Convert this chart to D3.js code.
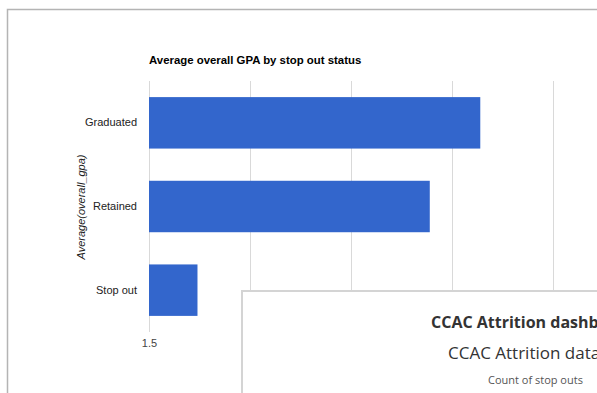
<!DOCTYPE html>
<html>
<head>
<meta charset="utf-8">
<script src="https://cdn.jsdelivr.net/npm/d3@7"></script>
<style>
  body { margin: 0; background: #fff; }
  svg { font-family: Arial, "Liberation Sans", sans-serif; }
  .card-text { font-family: "Open Sans", sans-serif; }
</style>
</head>
<body>
<div class="chart"></div>
<script>
// chart data
let categories = ["Graduated", "Retained", "Stop out"];
let gpaValues = [3.14, 2.89, 1.74];
let xTicks = [1.5, 2, 2.5, 3, 3.5];
// only the first tick label is visible, the rest sit under the card
let xTickLabels = ["1.5"];
let chartTitle = "Average overall GPA by stop out status";
let yAxisTitle = "Average(overall_gpa)";
let cardTitle = "CCAC Attrition dashboard";
let cardSubtitle = "CCAC Attrition data";
let cardLabel = "Count of stop outs";

let svgWidth = 597;
let svgHeight = 393;

let svg = d3.select(".chart")
  .append("svg")
  .attr("width", svgWidth)
  .attr("height", svgHeight);

// outer panel frame
svg.append("rect")
  .attr("x", 7.5).attr("y", 9.5)
  .attr("width", 700).attr("height", 500)
  .attr("fill", "#fff")
  .attr("stroke", "#b4b4b4")
  .attr("stroke-width", 1.5);

let plot = { left: 149, right: 553, top: 81, bottom: 332 };

let xScale = d3.scaleLinear()
  .domain([1.5, 3.5])
  .range([plot.left, plot.right]);

let yScale = d3.scaleBand()
  .domain(categories)
  .range([plot.top, plot.bottom])
  .paddingInner(0.385)
  .paddingOuter(0.1925);

// gridlines
svg.append("g")
  .selectAll("line")
  .data(xTicks)
  .enter()
  .append("line")
  .attr("x1", d => Math.round(xScale(d)) + 0.5)
  .attr("x2", d => Math.round(xScale(d)) + 0.5)
  .attr("y1", plot.top)
  .attr("y2", plot.bottom)
  .attr("stroke", "#d9d9d9")
  .attr("stroke-width", 1);

// bars
svg.append("g")
  .selectAll("rect")
  .data(categories)
  .enter()
  .append("rect")
  .attr("x", xScale(1.5))
  .attr("y", d => yScale(d))
  .attr("width", (d, i) => xScale(gpaValues[i]) - xScale(1.5))
  .attr("height", yScale.bandwidth())
  .attr("fill", "#3366cc");

// axis labels
let leftAxis = d3.axisLeft(yScale).tickSize(0).tickPadding(12);
let yg = svg.append("g")
  .attr("transform", `translate(${plot.left}, 0)`)
  .call(leftAxis);
yg.select(".domain").remove();
yg.selectAll("text")
  .attr("font-size", 11)
  .attr("font-family", null)
  .attr("fill", "#222");

let bottomAxis = d3.axisBottom(xScale)
  .tickValues(xTicks.slice(0, xTickLabels.length))
  .tickFormat((d, i) => xTickLabels[i])
  .tickSize(0)
  .tickPadding(7);
let xg = svg.append("g")
  .attr("transform", `translate(0, ${plot.bottom})`)
  .call(bottomAxis);
xg.select(".domain").remove();
xg.selectAll("text")
  .attr("font-size", 11)
  .attr("font-family", null)
  .attr("fill", "#444");

// titles
svg.append("text")
  .attr("x", plot.left)
  .attr("y", 64)
  .attr("font-size", 11.4)
  .attr("font-weight", "bold")
  .attr("fill", "#000")
  .text(chartTitle);

svg.append("text")
  .attr("transform", "translate(85, 207) rotate(-90)")
  .attr("text-anchor", "middle")
  .attr("font-size", 11)
  .attr("font-style", "italic")
  .attr("fill", "#222")
  .text(yAxisTitle);

// overlapping dashboard card
svg.append("rect")
  .attr("x", 242).attr("y", 291)
  .attr("width", 500).attr("height", 300)
  .attr("fill", "#fff")
  .attr("stroke", "#d4d4d4")
  .attr("stroke-width", 2);

svg.append("text")
  .attr("class", "card-text")
  .attr("x", 431).attr("y", 328)
  .attr("font-size", 16)
  .attr("font-weight", "bold")
  .attr("fill", "#333")
  .text(cardTitle);

svg.append("text")
  .attr("class", "card-text")
  .attr("x", 448).attr("y", 359)
  .attr("font-size", 17)
  .attr("fill", "#333")
  .text(cardSubtitle);

svg.append("text")
  .attr("class", "card-text")
  .attr("x", 488).attr("y", 384)
  .attr("font-size", 11)
  .attr("fill", "#555")
  .text(cardLabel);
</script>
</body>
</html>
